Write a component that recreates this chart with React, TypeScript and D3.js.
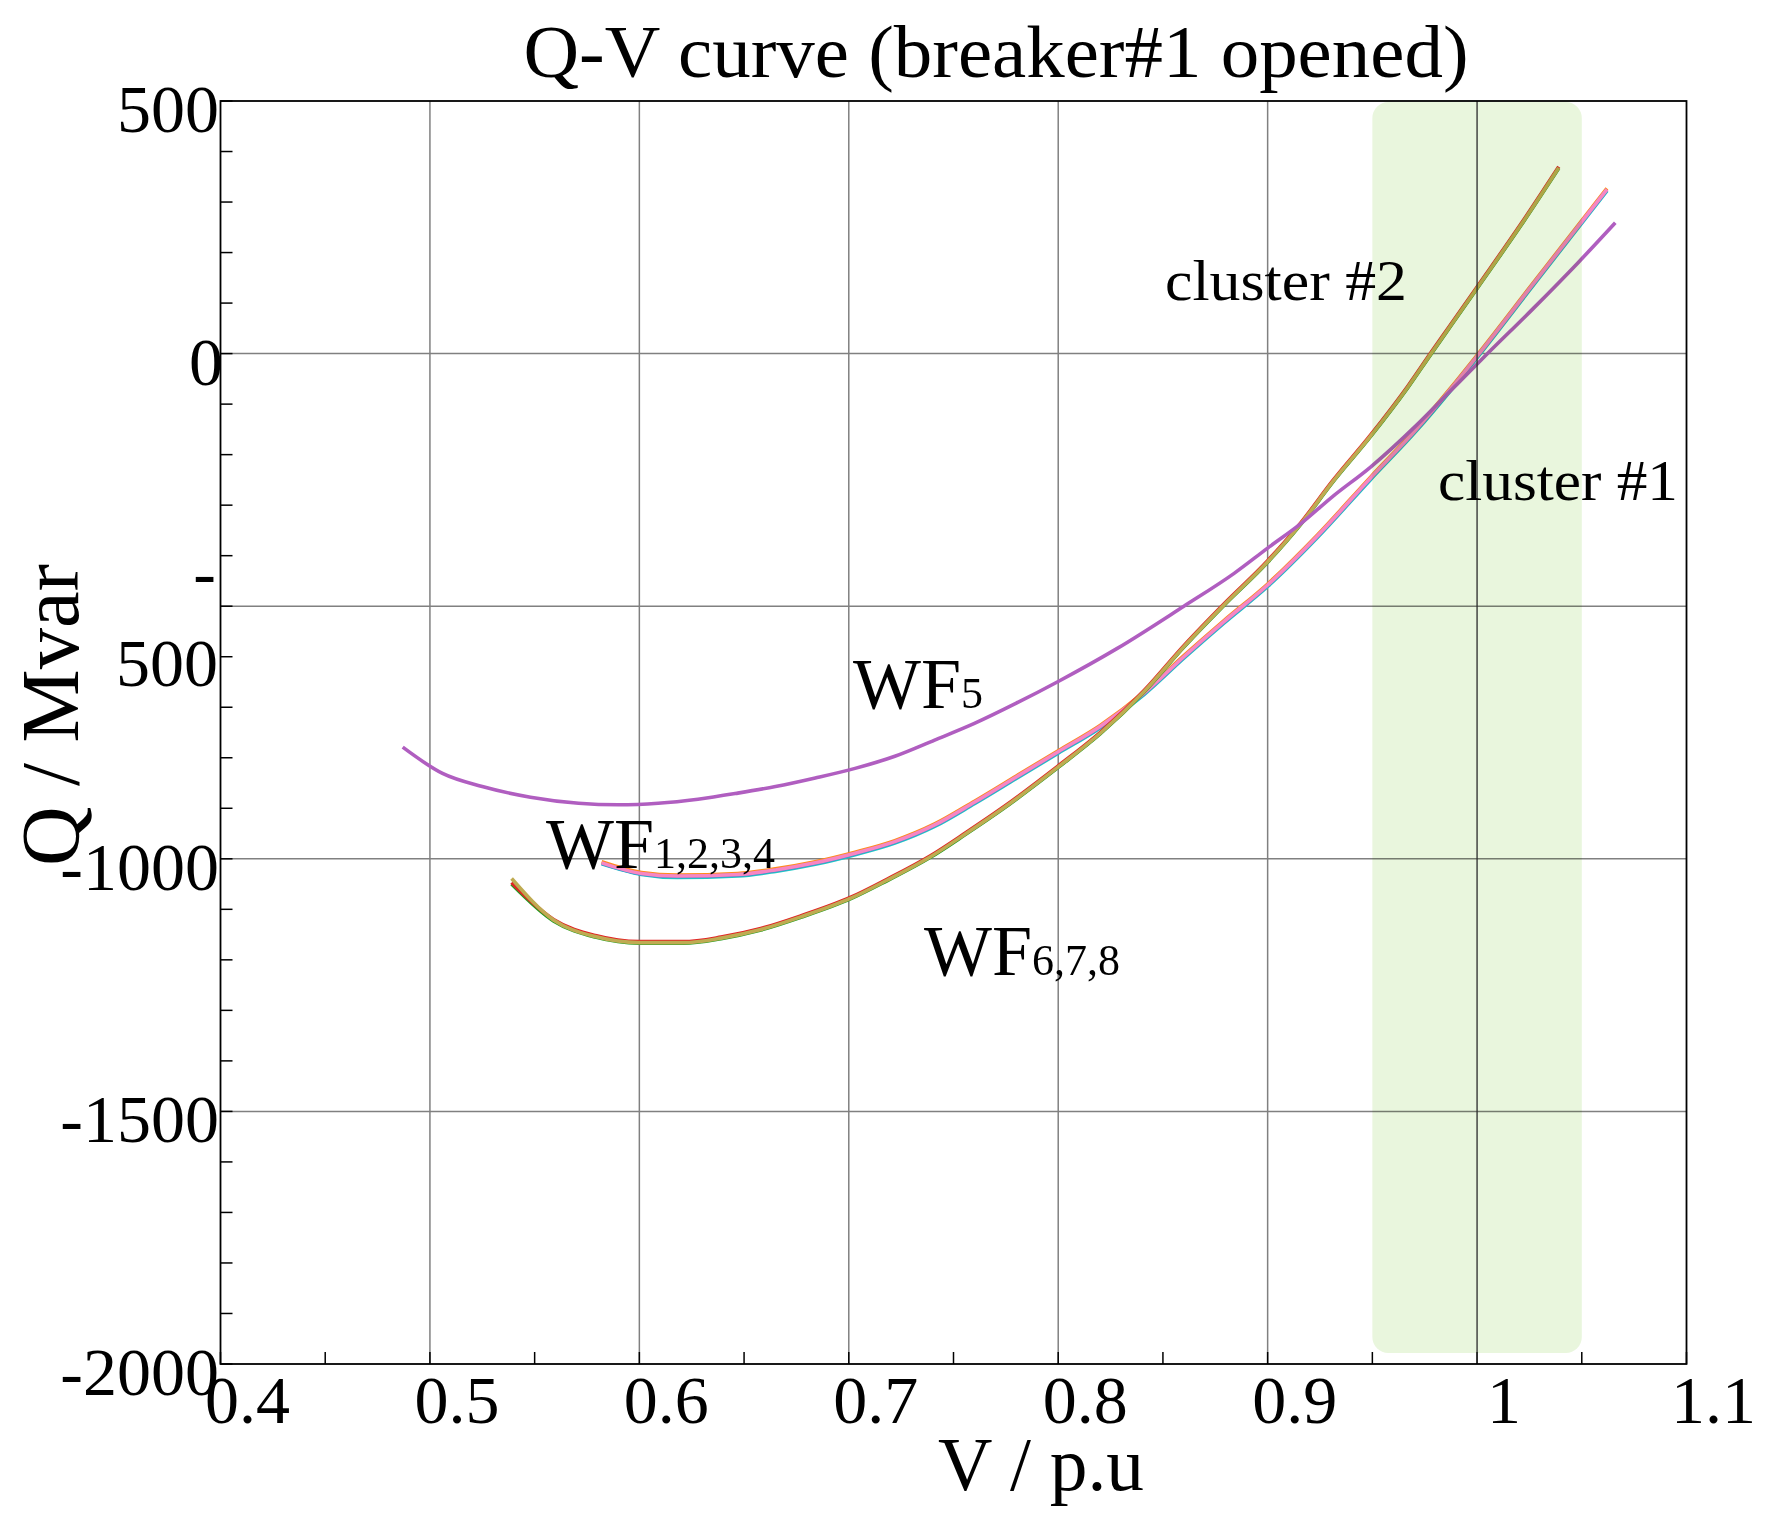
import { useEffect, useRef } from 'react';
import * as d3 from 'd3';

const width = 1768;
const height = 1525;

// WF5
const vWF5 = [0.487, 0.506, 0.525, 0.548, 0.571, 0.590, 0.609, 0.628, 0.647, 0.665, 0.684, 0.703, 0.722, 0.741, 0.760, 0.780, 0.800, 0.828, 0.860, 0.884, 0.900, 0.916, 0.931, 0.949, 0.971, 0.987, 1.005, 1.027, 1.048, 1.066];
const qWF5 = [-779, -831, -857, -878, -890, -893, -890, -882, -870, -857, -840, -821, -797, -765, -732, -692, -649, -584, -500, -435, -385, -336, -283, -225, -142, -75, 0, 90, 179, 259];

// WF1..WF4 (cluster #1)
const vWF1234 = [0.582, 0.601, 0.618, 0.647, 0.665, 0.684, 0.703, 0.722, 0.741, 0.760, 0.780, 0.800, 0.820, 0.841, 0.860, 0.879, 0.900, 0.924, 0.949, 0.971, 0.987, 1.001, 1.027, 1.062];
const qWF1 = [-1010, -1031, -1037, -1034, -1025, -1011, -992, -969, -936, -891, -841, -791, -741, -675, -603, -534, -461, -363, -250, -153, -75, -3, 136, 322];
const qWF2 = [-1006, -1027, -1032, -1029, -1020, -1006, -987, -964, -931, -886, -836, -786, -736, -670, -598, -529, -456, -358, -245, -148, -70, 2, 141, 327];
const qWF3 = [-1009, -1030, -1035, -1032, -1023, -1009, -990, -967, -934, -889, -839, -789, -739, -673, -601, -532, -459, -361, -248, -151, -73, -1, 138, 324];
const qWF4 = [-1008, -1029, -1034, -1031, -1022, -1008, -989, -966, -933, -888, -838, -788, -738, -672, -600, -531, -458, -360, -247, -150, -72, 0, 139, 325];

// WF6..WF8 (cluster #2)
const vWF678 = [0.539, 0.559, 0.579, 0.600, 0.621, 0.639, 0.658, 0.677, 0.701, 0.718, 0.739, 0.756, 0.773, 0.800, 0.820, 0.841, 0.860, 0.879, 0.900, 0.916, 0.931, 0.949, 0.967, 0.978, 0.987, 1.000, 1.021, 1.039];
const qWF6 = [-1050, -1123, -1155, -1167, -1167, -1158, -1141, -1116, -1079, -1044, -997, -951, -903, -819, -753, -670, -581, -499, -413, -337, -255, -165, -67, -1, 52, 129, 254, 367];
const qWF7 = [-1047, -1120, -1152, -1164, -1164, -1155, -1138, -1113, -1076, -1041, -994, -948, -900, -816, -750, -667, -578, -496, -410, -334, -252, -162, -64, 2, 55, 132, 257, 370];
const qWF8 = [-1039, -1121, -1154, -1166, -1166, -1157, -1140, -1115, -1078, -1043, -996, -950, -902, -818, -752, -669, -580, -498, -412, -336, -254, -164, -66, 0, 53, 130, 255, 368];

const xTicks = [0.4, 0.5, 0.6, 0.7, 0.8, 0.9, 1.0, 1.1];
const xTickLabels = ['0.4', '0.5', '0.6', '0.7', '0.8', '0.9', '1', '1.1'];
const yTicks = [500, 0, -500, -1000, -1500, -2000];
const yTickLabels = ['500', '0', '-500', '-1000', '-1500', '-2000'];
const bandRange = [0.95, 1.05];
const refV = 1.0;

const font = '"Liberation Serif", "Times New Roman", serif';

export default function App() {
  const svgRef = useRef<SVGSVGElement>(null);

  useEffect(() => {
    document.body.style.margin = '0';
    if (!svgRef.current) return;
    const svg = d3.select(svgRef.current);
    svg.selectAll('*').remove();

    const x = d3.scaleLinear().domain([0.4, 1.1]).range([220.5, 1686.5]);
    const y = d3.scaleLinear().domain([-2000, 500]).range([1364, 101]);

    const g = svg.append('g');

    // grid
    g.selectAll('.vgrid')
      .data(xTicks.slice(1, -1).filter(v => v !== refV))
      .enter()
      .append('line')
      .attr('x1', d => x(d)).attr('x2', d => x(d))
      .attr('y1', y(500)).attr('y2', y(-2000))
      .attr('stroke', '#808080')
      .attr('stroke-width', 1.5);

    g.selectAll('.hgrid')
      .data(yTicks.slice(1, -1))
      .enter()
      .append('line')
      .attr('x1', x(0.4)).attr('x2', x(1.1))
      .attr('y1', d => y(d)).attr('y2', d => y(d))
      .attr('stroke', '#808080')
      .attr('stroke-width', 1.5);

    // minor ticks (inward)
    g.selectAll('.ytick')
      .data(y.ticks(25))
      .enter()
      .append('line')
      .attr('x1', x(0.4)).attr('x2', x(0.4) + 12)
      .attr('y1', d => y(d)).attr('y2', d => y(d))
      .attr('stroke', '#000')
      .attr('stroke-width', 1.5);

    g.selectAll('.xtick')
      .data(x.ticks(14))
      .enter()
      .append('line')
      .attr('x1', d => x(d)).attr('x2', d => x(d))
      .attr('y1', y(-2000)).attr('y2', y(-2000) - 12)
      .attr('stroke', '#000')
      .attr('stroke-width', 1.5);

    // curves
    const series = [
      { v: vWF1234, q: qWF1, color: '#1ec8c4' },
      { v: vWF1234, q: qWF2, color: '#ff8a1c' },
      { v: vWF1234, q: qWF3, color: '#4a7fd0' },
      { v: vWF1234, q: qWF4, color: '#f786c3' },
      { v: vWF678, q: qWF6, color: '#1f9e1f' },
      { v: vWF678, q: qWF7, color: '#e02424' },
      { v: vWF678, q: qWF8, color: '#bfab52' },
      { v: vWF5, q: qWF5, color: '#b05ec0' },
    ];

    const line = d3.line<[number, number]>()
      .x(d => x(d[0]))
      .y(d => y(d[1]))
      .curve(d3.curveMonotoneX);

    g.selectAll('.curve')
      .data(series)
      .enter()
      .append('path')
      .attr('d', s => line(s.v.map((v, i) => [v, s.q[i]] as [number, number])))
      .attr('fill', 'none')
      .attr('stroke', s => s.color)
      .attr('stroke-width', 3.6)
      .attr('stroke-linejoin', 'round');

    // voltage band
    g.append('rect')
      .attr('x', x(bandRange[0]))
      .attr('y', y(500) + 1)
      .attr('width', x(bandRange[1]) - x(bandRange[0]))
      .attr('height', y(-2000) - y(500) - 12)
      .attr('rx', 16)
      .attr('fill', '#e9f6dd')
      .style('mix-blend-mode', 'multiply');

    g.append('line')
      .attr('x1', x(refV)).attr('x2', x(refV))
      .attr('y1', y(500)).attr('y2', y(-2000))
      .attr('stroke', '#2a2a2a')
      .attr('stroke-width', 1.3);

    // frame
    g.append('rect')
      .attr('x', x(0.4)).attr('y', y(500))
      .attr('width', x(1.1) - x(0.4))
      .attr('height', y(-2000) - y(500))
      .attr('fill', 'none')
      .attr('stroke', '#000')
      .attr('stroke-width', 1.8);

    // tick labels
    const txt = svg.append('g')
      .attr('font-family', font)
      .attr('fill', '#000');

    txt.selectAll('.xl')
      .data(xTicks)
      .enter()
      .append('text')
      .attr('x', d => x(d) + 27)
      .attr('y', y(-2000) + 59)
      .attr('text-anchor', 'middle')
      .attr('font-size', 68)
      .text((d, i) => xTickLabels[i]);

    yTicks.forEach((d, i) => {
      const label = yTickLabels[i];
      if (label === '-500') {
        // label broken over two lines in the original
        txt.append('text')
          .attr('x', 216).attr('y', y(d) - 11)
          .attr('text-anchor', 'end')
          .attr('font-size', 68)
          .text('-');
        txt.append('text')
          .attr('x', 218).attr('y', y(d) + 80)
          .attr('text-anchor', 'end')
          .attr('font-size', 68)
          .text(label.slice(1));
      } else {
        txt.append('text')
          .attr('x', label === '0' ? 223 : 219)
          .attr('y', y(d) + 31)
          .attr('text-anchor', 'end')
          .attr('font-size', 68)
          .text(label);
      }
    });

    // titles
    txt.append('text')
      .attr('x', 996).attr('y', 77)
      .attr('text-anchor', 'middle')
      .attr('font-size', 74)
      .attr('textLength', 945)
      .attr('lengthAdjust', 'spacingAndGlyphs')
      .text('Q-V curve (breaker#1 opened)');

    txt.append('text')
      .attr('x', 1041).attr('y', 1490)
      .attr('text-anchor', 'middle')
      .attr('font-size', 76)
      .attr('textLength', 206)
      .attr('lengthAdjust', 'spacingAndGlyphs')
      .text('V / p.u');

    txt.append('text')
      .attr('transform', 'translate(78, 715) rotate(-90)')
      .attr('text-anchor', 'middle')
      .attr('font-size', 82)
      .attr('textLength', 302)
      .attr('lengthAdjust', 'spacingAndGlyphs')
      .text('Q / Mvar');

    // annotations
    txt.append('text')
      .attr('x', 1165).attr('y', 300)
      .attr('font-size', 58)
      .attr('textLength', 242)
      .attr('lengthAdjust', 'spacingAndGlyphs')
      .text('cluster #2');

    txt.append('text')
      .attr('x', 1438).attr('y', 500)
      .attr('font-size', 58)
      .attr('textLength', 240)
      .attr('lengthAdjust', 'spacingAndGlyphs')
      .text('cluster #1');

    const wfLabels = [
      { x: 853, y: 708, sub: '5' },
      { x: 546, y: 868, sub: '1,2,3,4' },
      { x: 924, y: 975, sub: '6,7,8' },
    ];
    wfLabels.forEach(l => {
      const t = txt.append('text')
        .attr('x', l.x).attr('y', l.y)
        .attr('font-size', 72);
      t.append('tspan').text('WF');
      t.append('tspan').attr('font-size', 44).text(l.sub);
    });
  }, []);

  return (
    <svg
      ref={svgRef}
      width={width}
      height={height}
      style={{ display: 'block', background: '#fff' }}
    />
  );
}
